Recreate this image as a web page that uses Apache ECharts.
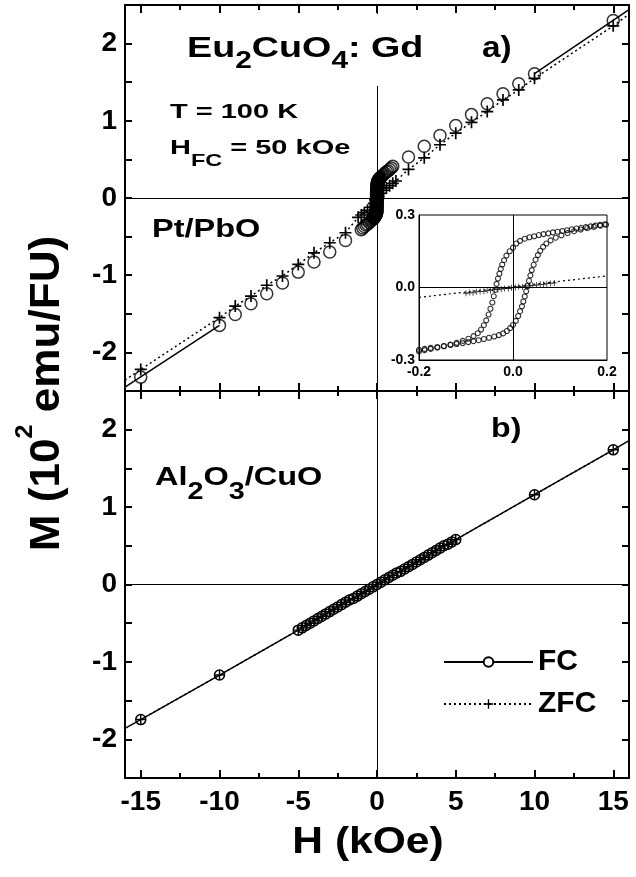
<!DOCTYPE html>
<html>
<head>
<meta charset="utf-8">
<script src="https://cdn.jsdelivr.net/npm/echarts@6/dist/echarts.min.js"></script>
<style>
  html, body { margin: 0; padding: 0; background: #fff; }
  #chart { width: 636px; height: 877px; }
</style>
</head>
<body>
<div id="chart"></div>
<script>
const FONT = '"Liberation Sans", Arial, Helvetica, sans-serif';

// ---- Panel a) Eu2CuO4:Gd, Pt/PbO : M (10^2 emu/FU) vs H (kOe) ----
// field-cooled points
const fcA_H = [-15, -10, -9, -8, -7, -6, -5, -4, -3, -2, -1.0, -0.9, -0.8, -0.7, -0.6, -0.5, -0.4, -0.3,
               0.3, 0.4, 0.5, 0.6, 0.7, 0.8, 0.9, 1.0, 2, 3, 4, 5, 6, 7, 8, 9, 10, 15];
const fcA_M = [-2.32, -1.65, -1.51, -1.37, -1.24, -1.10, -0.96, -0.83, -0.70, -0.55, -0.41, -0.39, -0.37, -0.35, -0.34, -0.32, -0.30, -0.28,
               0.28, 0.30, 0.32, 0.34, 0.35, 0.37, 0.39, 0.41, 0.53, 0.67, 0.81, 0.94, 1.08, 1.22, 1.35, 1.48, 1.61, 2.30];

// zero-field-cooled points
const zfcA_H = [-15, -10, -9, -8, -7, -6, -5, -4, -3, -2, -1.2, -1.0, -0.8, -0.6, -0.4, -0.2,
                0.2, 0.4, 0.6, 0.8, 1.0, 1.2, 2, 3, 4, 5, 6, 7, 8, 9, 10, 15];
const zfcA_M = [-2.22, -1.55, -1.40, -1.27, -1.13, -1.01, -0.86, -0.71, -0.58, -0.45, -0.25, -0.22, -0.19, -0.16, -0.12, -0.07,
                0.06, 0.10, 0.13, 0.16, 0.19, 0.22, 0.37, 0.52, 0.69, 0.84, 0.98, 1.12, 1.27, 1.40, 1.55, 2.23];

// low-field FC hysteresis loop: branch swept down from +0.2 kOe
const loopDown_H = [0.195, 0.185, 0.175, 0.165, 0.155, 0.145, 0.135, 0.125, 0.115, 0.105, 0.095, 0.085, 0.075, 0.065, 0.055, 0.045,
                    0.035, 0.025, 0.015, 0.007, 0.000, -0.007, -0.014, -0.019, -0.023, -0.026, -0.029, -0.032, -0.035, -0.038, -0.041,
                    -0.044, -0.048, -0.052, -0.057, -0.062, -0.068, -0.075, -0.084, -0.095, -0.107, -0.120, -0.133, -0.147, -0.161,
                    -0.175, -0.188, -0.200];
const loopDown_M = [0.262, 0.259, 0.256, 0.253, 0.250, 0.247, 0.244, 0.241, 0.237, 0.234, 0.231, 0.228, 0.224, 0.221, 0.217, 0.212,
                    0.208, 0.202, 0.193, 0.182, 0.165, 0.150, 0.132, 0.113, 0.095, 0.077, 0.057, 0.037, 0.015, -0.010, -0.036,
                    -0.062, -0.088, -0.112, -0.136, -0.156, -0.174, -0.189, -0.201, -0.212, -0.221, -0.229, -0.236, -0.243, -0.249,
                    -0.254, -0.259, -0.264];
// branch swept up from -0.2 kOe
const loopUp_H = [-0.200, -0.188, -0.175, -0.161, -0.147, -0.133, -0.120, -0.107, -0.095, -0.084, -0.073, -0.062, -0.051, -0.040,
                  -0.030, -0.021, -0.013, -0.006, 0.000, 0.006, 0.011, 0.015, 0.019, 0.022, 0.025, 0.028, 0.031, 0.034, 0.037,
                  0.040, 0.044, 0.048, 0.053, 0.058, 0.064, 0.071, 0.080, 0.091, 0.103, 0.116, 0.130, 0.144, 0.158, 0.172,
                  0.186, 0.198];
const loopUp_M = [-0.258, -0.254, -0.250, -0.246, -0.242, -0.238, -0.234, -0.230, -0.226, -0.222, -0.218, -0.213, -0.208, -0.203,
                  -0.197, -0.190, -0.180, -0.168, -0.155, -0.138, -0.118, -0.098, -0.078, -0.058, -0.037, -0.016, 0.006, 0.028, 0.050,
                  0.072, 0.094, 0.115, 0.134, 0.152, 0.168, 0.182, 0.195, 0.206, 0.216, 0.225, 0.233, 0.240, 0.246, 0.251,
                  0.256, 0.260];

// low-field ZFC points
const zfcLow_H = [-0.100, -0.092, -0.085, -0.078, -0.070, -0.062, -0.055, -0.048, -0.040, -0.032, -0.025, -0.018, -0.010,
                  -0.003, 0.005, 0.012, 0.020, 0.027, 0.035, 0.042, 0.050, 0.058, 0.065, 0.072, 0.080, 0.088];
const zfcLow_M = [-0.024, -0.021, -0.022, -0.018, -0.017, -0.016, -0.012, -0.013, -0.009, -0.008, -0.007, -0.004, -0.004,
                  -0.001, 0.000, 0.003, 0.002, 0.006, 0.007, 0.009, 0.010, 0.013, 0.012, 0.016, 0.017, 0.019];

// high-field straight-line fits (panel a)
const fitFcNeg_H = [-16, -10], fitFcNeg_M = [-2.45, -1.65];
const fitFcPos_H = [10, 16],   fitFcPos_M = [1.61, 2.44];
const fitZfc_H = [-16, 16],    fitZfc_M = [-2.36, 2.38];
// ZFC guide across the low-field window
const zfcGuide_H = [-0.2, 0.2], zfcGuide_M = [-0.041, 0.048];

// ---- Panel b) Al2O3/CuO ----
const fcB_H = [-15, -10, -5.00, -4.75, -4.50, -4.25, -4.00, -3.75, -3.50, -3.25, -3.00, -2.75, -2.50, -2.25, -2.00, -1.75,
               -1.50, -1.25, -1.00, -0.75, -0.50, -0.25, 0.00, 0.25, 0.50, 0.75, 1.00, 1.25, 1.50, 1.75, 2.00, 2.25, 2.50,
               2.75, 3.00, 3.25, 3.50, 3.75, 4.00, 4.25, 4.50, 4.75, 5.00, 10, 15];
const fcB_M = [-1.745, -1.17, -0.59, -0.56, -0.53, -0.50, -0.47, -0.44, -0.41, -0.38, -0.35, -0.32, -0.29, -0.26, -0.23, -0.20,
               -0.18, -0.15, -0.12, -0.09, -0.06, -0.03, 0.00, 0.03, 0.06, 0.09, 0.12, 0.15, 0.17, 0.20, 0.23, 0.26, 0.29,
               0.32, 0.35, 0.38, 0.41, 0.44, 0.47, 0.50, 0.52, 0.55, 0.58, 1.16, 1.74];
const zfcB_H = fcB_H;
const zfcB_M = fcB_M;
const fitB_H = [-16, 16], fitB_M = [-1.86, 1.86];

// ---- axis ticks ----
const xMajor = [-15, -10, -5, 0, 5, 10, 15];
const xMinor = [-12.5, -7.5, -2.5, 2.5, 7.5, 12.5];

const zip = (h, m) => h.map((v, i) => [v, m[i]]);
const bare = (h, m) => h.map((v, i) => ({ value: [v, m[i]], symbol: 'none' }));
const byH = (a, b) => (a.value ? a.value[0] : a[0]) - (b.value ? b.value[0] : b[0]);

const PLUS = 'path://M4.3,0H5.7V4.3H10V5.7H5.7V10H4.3V5.7H0V4.3H4.3Z';
const ring = { color: 'rgba(0,0,0,0)', borderColor: '#000', borderWidth: 1.5 };
const zeroLines = {
  silent: true, symbol: ['none', 'none'], label: { show: false },
  lineStyle: { color: '#000', width: 1, type: 'solid' },
  emphasis: { disabled: true },
  data: [{ yAxis: 0 }, { xAxis: 0 }]
};

function xAx(grid, pos, values, len, showLine, label) {
  return {
    type: 'value', gridIndex: grid, position: pos, min: -16, max: 16,
    axisLine: { show: showLine, onZero: false, lineStyle: { color: '#000', width: 2 } },
    axisTick: { show: true, inside: true, length: len, customValues: values, lineStyle: { color: '#000', width: 2 } },
    axisLabel: label ? Object.assign({ customValues: values }, label) : { show: false },
    splitLine: { show: false }
  };
}
function yAx(grid, pos, labels) {
  return {
    type: 'value', gridIndex: grid, position: pos, min: -2.5, max: 2.5, interval: 0.5,
    axisLine: { show: true, onZero: false, lineStyle: { color: '#000', width: 2 } },
    axisTick: { show: true, inside: true, length: 7, lineStyle: { color: '#000', width: 2 } },
    axisLabel: labels ? {
      show: true, margin: 8, fontSize: 28, fontWeight: 'bold', fontFamily: FONT, color: '#000',
      formatter: v => (Number.isInteger(v) ? String(v) : '')
    } : { show: false },
    splitLine: { show: false }
  };
}
const tickLabel = { show: true, margin: 10, fontSize: 28, fontWeight: 'bold', fontFamily: FONT, color: '#000' };

function txt(x, y, text, rich, scaleX, extra) {
  return Object.assign({
    type: 'text', z: 11, x: x, y: y, scaleX: scaleX,
    style: {
      text: text, rich: rich, fill: '#000',
      align: 'left', verticalAlign: 'middle', textAlign: 'left', textVerticalAlign: 'middle'
    }
  }, extra || {});
}
const tok = (size, lh, va) => ({ fontSize: size, fontWeight: 'bold', fontFamily: FONT, lineHeight: lh, fill: '#000', color: '#000', verticalAlign: va });

const yTitleRich = { m: tok(42, 68, 'middle'), s: tok(24, 24, 'top') };

const chart = echarts.init(document.getElementById('chart'), null, { renderer: 'canvas' });
chart.setOption({
  animation: false,
  backgroundColor: '#fff',
  grid: [
    { left: 125, top: 5, width: 504, height: 386 },
    { left: 125, top: 391, width: 504, height: 387 },
    { left: 419, top: 215, width: 188, height: 145, show: true, borderColor: '#000', borderWidth: 1, backgroundColor: '#fff', z: 3 }
  ],
  xAxis: [
    xAx(0, 'bottom', xMajor, 8, true),
    xAx(0, 'bottom', xMinor, 5, false),
    xAx(0, 'top', xMajor, 8, true),
    xAx(0, 'top', xMinor, 5, false),
    xAx(1, 'bottom', xMajor, 8, true, tickLabel),
    xAx(1, 'bottom', xMinor, 5, false),
    xAx(1, 'top', xMajor, 8, true),
    xAx(1, 'top', xMinor, 5, false),
    {
      type: 'value', gridIndex: 2, min: -0.2, max: 0.2, interval: 0.2, z: 4,
      axisLine: { show: true, onZero: false, lineStyle: { color: '#000', width: 1 } },
      axisTick: { show: false },
      axisLabel: { margin: 5, fontSize: 14, fontWeight: 'bold', fontFamily: FONT, color: '#000', formatter: v => v.toFixed(1) },
      splitLine: { show: false }
    }
  ],
  yAxis: [
    yAx(0, 'left', true),
    yAx(0, 'right', false),
    yAx(1, 'left', true),
    yAx(1, 'right', false),
    {
      type: 'value', gridIndex: 2, min: -0.3, max: 0.3, interval: 0.3, z: 4,
      axisLine: { show: true, onZero: false, lineStyle: { color: '#000', width: 1 } },
      axisTick: { show: false },
      axisLabel: { margin: 4, fontSize: 14, fontWeight: 'bold', fontFamily: FONT, color: '#000', formatter: v => v.toFixed(1) },
      splitLine: { show: false }
    }
  ],
  legend: {
    data: [{ name: 'FC', itemStyle: { color: '#fff' } }, { name: 'ZFC' }],
    orient: 'vertical', left: 438, top: 642, itemWidth: 89, itemHeight: 12, itemGap: 12,
    selectedMode: false,
    textStyle: { fontSize: 30, fontWeight: 'bold', fontFamily: FONT, color: '#000', lineHeight: 30 }
  },
  series: [
    // panel b)
    {
      name: 'FC', type: 'line', xAxisIndex: 4, yAxisIndex: 2, z: 3,
      symbol: 'circle', symbolSize: 10, itemStyle: ring,
      lineStyle: { color: '#000', width: 1.5, type: 'solid' },
      data: zip(fcB_H, fcB_M).concat(bare(fitB_H, fitB_M)).sort(byH),
      markLine: zeroLines
    },
    {
      name: 'ZFC', type: 'line', xAxisIndex: 4, yAxisIndex: 2, z: 4,
      symbol: PLUS, symbolSize: 10, itemStyle: { color: '#000' },
      lineStyle: { color: '#000', width: 1.5, type: [2, 3] },
      data: zip(zfcB_H, zfcB_M)
    },
    // panel a)
    {
      name: 'FC (Pt/PbO)', type: 'scatter', xAxisIndex: 0, yAxisIndex: 0, z: 3,
      symbol: 'circle', symbolSize: 12, itemStyle: ring,
      data: zip(fcA_H, fcA_M).concat(zip(loopDown_H, loopDown_M), zip(loopUp_H, loopUp_M)),
      markLine: zeroLines
    },
    {
      name: 'FC fit -', type: 'line', xAxisIndex: 0, yAxisIndex: 0, z: 2, symbol: 'none',
      lineStyle: { color: '#000', width: 1.5 }, data: zip(fitFcNeg_H, fitFcNeg_M)
    },
    {
      name: 'FC fit +', type: 'line', xAxisIndex: 0, yAxisIndex: 0, z: 2, symbol: 'none',
      lineStyle: { color: '#000', width: 1.5 }, data: zip(fitFcPos_H, fitFcPos_M)
    },
    {
      name: 'ZFC (Pt/PbO)', type: 'line', xAxisIndex: 0, yAxisIndex: 0, z: 4,
      symbol: PLUS, symbolSize: 12, itemStyle: { color: '#000' },
      lineStyle: { color: '#000', width: 1.5, type: [2, 3] },
      data: zip(zfcA_H, zfcA_M).concat(zip(zfcLow_H, zfcLow_M), bare(fitZfc_H, fitZfc_M)).sort(byH)
    },
    // low-field window
    {
      name: 'FC loop down', type: 'scatter', xAxisIndex: 8, yAxisIndex: 4, z: 5,
      symbol: 'circle', symbolSize: 5, itemStyle: { color: 'rgba(0,0,0,0)', borderColor: '#000', borderWidth: 1.1 },
      data: zip(loopDown_H, loopDown_M),
      markLine: zeroLines
    },
    {
      name: 'FC loop up', type: 'scatter', xAxisIndex: 8, yAxisIndex: 4, z: 5,
      symbol: 'circle', symbolSize: 5, itemStyle: { color: 'rgba(0,0,0,0)', borderColor: '#000', borderWidth: 1.1 },
      data: zip(loopUp_H, loopUp_M)
    },
    {
      name: 'ZFC guide', type: 'line', xAxisIndex: 8, yAxisIndex: 4, z: 5, symbol: 'none',
      lineStyle: { color: '#000', width: 1.2, type: [2, 3] }, data: zip(zfcGuide_H, zfcGuide_M)
    },
    {
      name: 'ZFC low field', type: 'scatter', xAxisIndex: 8, yAxisIndex: 4, z: 6,
      symbol: PLUS, symbolSize: 6, itemStyle: { color: '#000' },
      data: zip(zfcLow_H, zfcLow_M)
    }
  ],
  graphic: [
    { type: 'rect', z: 10, shape: { x: 183, y: 14, width: 246, height: 72 }, style: { fill: '#fff' } },
    txt(187, 49, '{m|Eu}{s|2}{m|CuO}{s|4}{m|: Gd}', { m: tok(29, 48, 'middle'), s: tok(23, 23, 'bottom') }, 1.3),
    txt(482, 49, '{m|a)}', { m: tok(29, 36, 'middle') }, 1.15),
    txt(170, 112.5, '{m|T = 100 K}', { m: tok(21, 30, 'middle') }, 1.38),
    txt(170, 148, '{m|H}{s|FC}{m| = 50 kOe}', { m: tok(21, 44, 'middle'), s: tok(17, 17, 'bottom') }, 1.38),
    txt(152, 230.5, '{m|Pt/PbO}', { m: tok(25, 30, 'middle') }, 1.3),
    txt(491, 429, '{m|b)}', { m: tok(28, 36, 'middle') }, 1.15),
    txt(155, 478, '{m|Al}{s|2}{m|O}{s|3}{m|/CuO}', { m: tok(26, 52, 'middle'), s: tok(23, 23, 'bottom') }, 1.25),
    txt(368, 843, '{m|H (kOe)}', { m: tok(37, 44, 'middle') }, 1.15,
      { style: { text: '{m|H (kOe)}', rich: { m: tok(37, 44, 'middle') }, align: 'center', verticalAlign: 'middle', textAlign: 'center', textVerticalAlign: 'middle' } }),
    txt(47, 393.5, '', null, 1.05,
      { rotation: Math.PI / 2, style: { text: '{m|M (10}{s|2}{m| emu/FU)}', rich: yTitleRich, align: 'center', verticalAlign: 'middle', textAlign: 'center', textVerticalAlign: 'middle' } })
  ]
});
</script>
</body>
</html>
